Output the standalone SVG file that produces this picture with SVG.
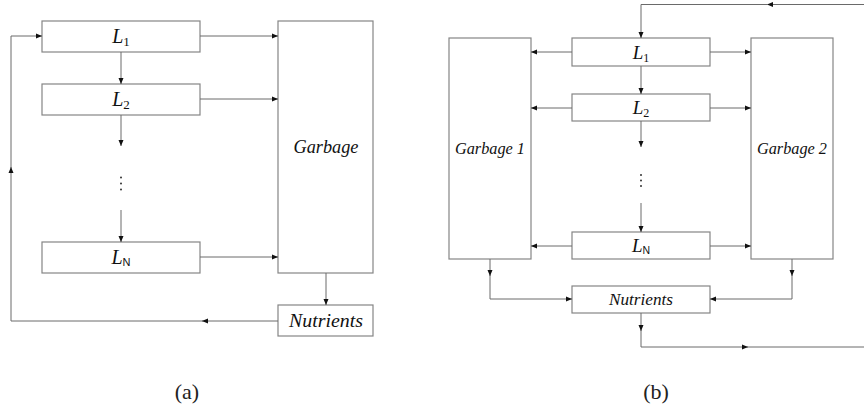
<svg xmlns="http://www.w3.org/2000/svg" width="864" height="409" viewBox="0 0 864 409">
<defs>
<marker id="ah" markerUnits="userSpaceOnUse" markerWidth="7" markerHeight="6" refX="6" refY="3" orient="auto">
<path d="M0,0.5 L6,3 L0,5.5 z" fill="#111"/>
</marker>
<style>
.box{fill:#fff;stroke:#858585;stroke-width:1.2}
.c{fill:none;stroke:#6a6a6a;stroke-width:1;marker-end:url(#ah)}
.p{fill:none;stroke:#6a6a6a;stroke-width:1}
.t{font-family:"Liberation Serif",serif;font-style:italic;fill:#111;text-anchor:middle}
.sub{font-style:normal}
.subn{font-family:"Liberation Sans",sans-serif;font-style:normal}
.cap{font-family:"Liberation Serif",serif;fill:#222;text-anchor:middle;font-size:22px}
.dot{fill:#333}
</style>
</defs>
<rect width="864" height="409" fill="#fff"/>

<!-- Panel (a) -->
<g id="a-L1"><rect class="box" x="42" y="21" width="158" height="31"/><text class="t" x="121" y="43" font-size="20">L<tspan class="sub" font-size="13" dy="3">1</tspan></text></g>
<g id="a-L2"><rect class="box" x="42" y="84" width="158" height="31"/><text class="t" x="121" y="106" font-size="20">L<tspan class="sub" font-size="13" dy="3">2</tspan></text></g>
<g id="a-dots"><circle class="dot" cx="121" cy="177.5" r="1"/><circle class="dot" cx="121" cy="183.5" r="1"/><circle class="dot" cx="121" cy="189.5" r="1"/></g>
<g id="a-LN"><rect class="box" x="42" y="242" width="158" height="31"/><text class="t" x="121" y="264" font-size="20">L<tspan class="subn" font-size="11" dy="2">N</tspan></text></g>
<g id="a-garbage"><rect class="box" x="278" y="21" width="95" height="252"/><text class="t" x="326" y="153" font-size="19" textLength="65" lengthAdjust="spacingAndGlyphs">Garbage</text></g>
<g id="a-nutrients"><rect class="box" x="278" y="305" width="95" height="31"/><text class="t" x="326" y="327" font-size="19" textLength="74" lengthAdjust="spacingAndGlyphs">Nutrients</text></g>
<text class="cap" x="187" y="399">(a)</text>

<!-- Panel (b) -->
<g id="b-L1"><rect class="box" x="572" y="38" width="138" height="28"/><text class="t" x="641" y="59" font-size="19">L<tspan class="sub" font-size="12" dy="3">1</tspan></text></g>
<g id="b-L2"><rect class="box" x="572" y="94" width="138" height="27"/><text class="t" x="641" y="114" font-size="19">L<tspan class="sub" font-size="12" dy="3">2</tspan></text></g>
<g id="b-dots"><circle class="dot" cx="641" cy="175" r="1"/><circle class="dot" cx="641" cy="180.5" r="1"/><circle class="dot" cx="641" cy="186" r="1"/></g>
<g id="b-LN"><rect class="box" x="572" y="232" width="138" height="27"/><text class="t" x="641" y="252" font-size="19">L<tspan class="subn" font-size="10.5" dy="2">N</tspan></text></g>
<g id="b-garbage1"><rect class="box" x="449" y="38" width="82" height="221"/><text class="t" x="490" y="154" font-size="17" textLength="70" lengthAdjust="spacingAndGlyphs">Garbage 1</text></g>
<g id="b-garbage2"><rect class="box" x="751" y="38" width="82" height="221"/><text class="t" x="792" y="154" font-size="17" textLength="70" lengthAdjust="spacingAndGlyphs">Garbage 2</text></g>
<g id="b-nutrients"><rect class="box" x="572" y="286" width="138" height="27"/><text class="t" x="641" y="305" font-size="17" textLength="64" lengthAdjust="spacingAndGlyphs">Nutrients</text></g>
<text class="cap" x="656" y="399">(b)</text>

<g id="connectors">
<!-- (a) -->
<path class="c" d="M200,36 H278"/>
<path class="c" d="M200,99 H278"/>
<path class="c" d="M200,257 H278"/>
<path class="c" d="M121,52 V84"/>
<path class="c" d="M121,115 V146"/>
<path class="c" d="M121,210 V242"/>
<path class="c" d="M326,273 V305"/>
<path class="c" d="M278,321 H202"/>
<path class="c" d="M203,321 H11 V167"/>
<path class="c" d="M11,168 V36 H42"/>
<!-- (b) -->
<path class="c" d="M864,4.5 H767"/>
<path class="c" d="M768,4.5 H641 V38"/>
<path class="c" d="M572,52 H531"/>
<path class="c" d="M710,52 H751"/>
<path class="c" d="M572,108 H531"/>
<path class="c" d="M710,108 H751"/>
<path class="c" d="M572,246 H531"/>
<path class="c" d="M710,246 H751"/>
<path class="c" d="M641,66 V94"/>
<path class="c" d="M641,121 V147"/>
<path class="c" d="M641,203 V232"/>
<path class="c" d="M490,259 V276"/>
<path class="c" d="M490,275 V299 H572"/>
<path class="c" d="M792,259 V276"/>
<path class="c" d="M792,275 V299 H710"/>
<path class="c" d="M641,313 V331"/>
<path class="c" d="M641,330 V347 H748"/>
<path class="p" d="M747,347 H864"/>
</g>
</svg>
